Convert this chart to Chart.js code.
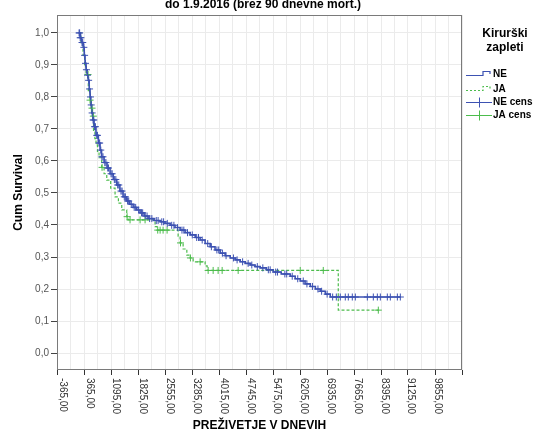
<!DOCTYPE html>
<html>
<head>
<meta charset="utf-8">
<script src="https://cdn.jsdelivr.net/npm/chart.js@4"></script>
<style>
html,body{margin:0;padding:0;background:#fff;}
#wrap{width:544px;height:440px;}
</style>
</head>
<body>
<div id="wrap"><canvas id="c" width="544" height="440"></canvas></div>
<script>
// ---- data ----
const chartTitle = 'do 1.9.2016 (brez 90 dnevne mort.)';
const xAxisTitle = 'PREŽIVETJE V DNEVIH';
const yAxisTitle = 'Cum Survival';
const legendTitle = ['Kirurški', 'zapleti'];
const legendLabels = ['NE', 'JA', 'NE cens', 'JA cens'];

const xTickValues = [-365, 365, 1095, 1825, 2555, 3285, 4015, 4745, 5475, 6205, 6935, 7665, 8395, 9125, 9855];
const xTickLabels = ['-365,00', '365,00', '1095,00', '1825,00', '2555,00', '3285,00', '4015,00', '4745,00',
                     '5475,00', '6205,00', '6935,00', '7665,00', '8395,00', '9125,00', '9855,00'];

// NE (no complications) - Kaplan-Meier step curve
const neDays = [90, 130, 170, 215, 240, 262, 290, 320, 351, 375, 398, 420, 444, 475, 507, 560, 624, 670, 711,
  780, 860, 943, 1030, 1125, 1210, 1297, 1390, 1480, 1570, 1670, 1760, 1870, 1978, 2140, 2305, 2440, 2577,
  2710, 2849, 2985, 3122, 3260, 3394, 3530, 3667, 3800, 3939, 4075, 4211, 4350, 4484, 4620, 4756, 4890,
  5029, 5200, 5383, 5600, 5846, 5980, 6118, 6250, 6391, 6530, 6663, 6800, 6935, 8842];
const neSurv = [1.000, 0.985, 0.970, 0.955, 0.930, 0.905, 0.885, 0.868, 0.852, 0.825, 0.800, 0.775, 0.750,
  0.728, 0.707, 0.680, 0.656, 0.634, 0.613, 0.595, 0.578, 0.560, 0.542, 0.525, 0.506, 0.488, 0.475, 0.465,
  0.455, 0.447, 0.438, 0.428, 0.420, 0.414, 0.410, 0.405, 0.399, 0.392, 0.384, 0.376, 0.369, 0.361, 0.353,
  0.342, 0.332, 0.322, 0.312, 0.304, 0.297, 0.291, 0.285, 0.280, 0.275, 0.270, 0.266, 0.260, 0.253, 0.247,
  0.240, 0.232, 0.225, 0.216, 0.208, 0.200, 0.193, 0.184, 0.175, 0.175];

// JA (complications) - Kaplan-Meier step curve
const jaDays = [90, 150, 207, 250, 289, 351, 398, 430, 466, 493, 530, 561, 600, 643, 716, 780, 853, 960,
  1079, 1170, 1261, 1397, 1433, 2168, 2223, 2795, 2849, 2931, 3032, 3122, 3204, 3530, 3585, 7153, 8243];
const jaSurv = [1.00, 0.97, 0.93, 0.90, 0.87, 0.82, 0.79, 0.765, 0.74, 0.69, 0.67, 0.65, 0.63, 0.61, 0.58,
  0.56, 0.54, 0.515, 0.488, 0.468, 0.447, 0.426, 0.416, 0.395, 0.384, 0.365, 0.344, 0.325, 0.306, 0.297,
  0.285, 0.272, 0.258, 0.134, 0.134];

// censored observation times
const neCensDays = [100, 115, 130, 150, 180, 200, 230, 250, 275, 300, 330, 360, 385, 410, 430, 455, 480, 500,
  520, 545, 580, 600, 640, 660, 690, 720, 750, 800, 830, 880, 900, 970, 1000, 1060, 1100, 1150, 1180, 1240,
  1270, 1330, 1360, 1420, 1450, 1520, 1600, 1640, 1720, 1800, 1830, 1900, 1950, 2020, 2080, 2200, 2250,
  2350, 2400, 2500, 2620, 2680, 2780, 2900, 2950, 3050, 3180, 3300, 3350, 3450, 3600, 3700, 3850, 3900,
  4000, 4100, 4300, 4400, 4550, 4700, 4800, 4950, 5100, 5250, 5300, 5450, 5500, 5700, 5750, 5900, 6050,
  6200, 6300, 6450, 6600, 6700, 6850, 7000, 7100, 7208, 7344, 7426, 7535, 7617, 7944, 8107, 8216, 8298,
  8488, 8570, 8761, 8842];
const jaCensDays = [343, 398, 452, 488, 725, 1406, 1487, 1760, 1896, 2240, 2305, 2386, 2495, 2860, 3130,
  3394, 3612, 3748, 3884, 3993, 4429, 6118, 6745, 8243];

// ---- helpers ----
function survAt(days, surv, t) {
  let s = surv[0];
  for (let i = 0; i < days.length; i++) { if (days[i] <= t) s = surv[i]; else break; }
  return s;
}
const BLUE = '#3d52b2';
const GREEN = '#4cbc4c';
const FONT = '"Liberation Sans", Arial, sans-serif';

const nePts = neDays.map((d, i) => ({x: d, y: neSurv[i]}));
const jaPts = jaDays.map((d, i) => ({x: d, y: jaSurv[i]}));
const neCens = neCensDays.map(d => ({x: d, y: survAt(neDays, neSurv, d)}));
const jaCens = jaCensDays.map(d => ({x: d, y: survAt(jaDays, jaSurv, d)}));

const extras = {
  id: 'extras',
  afterDraw(chart) {
    const {ctx, chartArea: a, scales: {x}} = chart;
    ctx.save();
    // frame
    ctx.strokeStyle = '#7a7a7a';
    ctx.lineWidth = 1;
    ctx.strokeRect(a.left + 0.5, a.top + 0.5, a.right - a.left - 1, a.bottom - a.top - 1);
    // x tick labels (rotated clockwise)
    ctx.fillStyle = '#333';
    ctx.font = '10px ' + FONT;
    ctx.textAlign = 'left';
    ctx.textBaseline = 'middle';
    xTickValues.forEach((v, i) => {
      const px = x.getPixelForValue(v);
      ctx.save();
      ctx.translate(px + 0.5, a.bottom + 8);
      ctx.rotate(Math.PI / 2);
      ctx.fillText(xTickLabels[i], 0, 0);
      ctx.restore();
    });
    // top title (partly cut off)
    ctx.fillStyle = '#000';
    ctx.font = 'bold 12px ' + FONT;
    ctx.textAlign = 'center';
    ctx.textBaseline = 'alphabetic';
    ctx.fillText(chartTitle, 263, 8);
    // legend title
    ctx.font = 'bold 12px ' + FONT;
    ctx.fillText(legendTitle[0], 505, 37);
    ctx.fillText(legendTitle[1], 505, 51);
    // legend entries
    ctx.textAlign = 'left';
    ctx.textBaseline = 'middle';
    ctx.font = 'bold 10px ' + FONT;
    const rows = [74, 89, 102, 115];
    rows.forEach((ry, i) => ctx.fillText(legendLabels[i], 493, ry));
    // NE symbol
    ctx.lineWidth = 1.2;
    ctx.strokeStyle = BLUE;
    ctx.beginPath();
    ctx.moveTo(466, 75.5); ctx.lineTo(483, 75.5); ctx.lineTo(483, 71.5); ctx.lineTo(490, 71.5); ctx.lineTo(490, 74);
    ctx.stroke();
    // JA symbol
    ctx.strokeStyle = GREEN;
    ctx.setLineDash([2, 2]);
    ctx.beginPath();
    ctx.moveTo(466, 90.5); ctx.lineTo(483, 90.5); ctx.lineTo(483, 86.5); ctx.lineTo(490, 86.5); ctx.lineTo(490, 89);
    ctx.stroke();
    ctx.setLineDash([]);
    // cens symbols
    [[102.5, BLUE], [115.5, GREEN]].forEach(([ry, col]) => {
      ctx.strokeStyle = col;
      ctx.lineWidth = 1;
      ctx.beginPath();
      ctx.moveTo(466, ry); ctx.lineTo(492, ry);
      ctx.moveTo(479.5, ry - 5); ctx.lineTo(479.5, ry + 5);
      ctx.stroke();
    });
    ctx.restore();
  }
};

new Chart(document.getElementById('c'), {
  type: 'scatter',
  data: {
    datasets: [
      {label: 'NE cens', data: neCens, showLine: false, pointStyle: 'cross', pointRadius: 3.5,
       pointBorderColor: BLUE, pointBorderWidth: 1, pointBackgroundColor: BLUE},
      {label: 'JA cens', data: jaCens, showLine: false, pointStyle: 'cross', pointRadius: 3.5,
       pointBorderColor: GREEN, pointBorderWidth: 1, pointBackgroundColor: GREEN},
      {label: 'NE', data: nePts, showLine: true, stepped: true, borderColor: BLUE, borderWidth: 1.6,
       pointRadius: 0, fill: false},
      {label: 'JA', data: jaPts, showLine: true, stepped: true, borderColor: GREEN, borderWidth: 1.2,
       borderDash: [3, 2], pointRadius: 0, fill: false}
    ]
  },
  options: {
    responsive: false,
    animation: false,
    layout: {padding: {left: 0, top: 15, right: 82, bottom: 0}},
    plugins: {legend: {display: false}, title: {display: false}, tooltip: {enabled: false}},
    scales: {
      x: {
        type: 'linear',
        min: -501, max: 10520,
        border: {display: false},
        grid: {
          color: '#ebebeb', lineWidth: 1, tickLength: 5, drawTicks: true,
          tickColor: (c) => (c.tick && Math.abs(Math.round(c.tick.value / 365)) % 2 === 1) ? '#333' : 'rgba(0,0,0,0)'
        },
        ticks: {display: false, stepSize: 365, includeBounds: false},
        title: {display: true, text: xAxisTitle, color: '#000', font: {family: FONT, size: 12, weight: 'bold'},
                padding: {top: 0, bottom: 7}},
        afterFit: (s) => { s.height = 70; }
      },
      y: {
        type: 'linear',
        min: -0.053, max: 1.056,
        border: {display: false},
        grid: {color: '#ebebeb', lineWidth: 1, tickLength: 6, tickColor: '#444'},
        ticks: {stepSize: 0.1, includeBounds: false, padding: 2, color: '#555',
                font: {family: FONT, size: 10},
                callback: (v) => v.toFixed(1).replace('.', ',')},
        title: {display: true, text: yAxisTitle, color: '#000', font: {family: FONT, size: 12, weight: 'bold'},
                padding: {top: 11, bottom: 0}},
        afterFit: (s) => { s.width = 57; }
      }
    }
  },
  plugins: [extras]
});
</script>
</body>
</html>
